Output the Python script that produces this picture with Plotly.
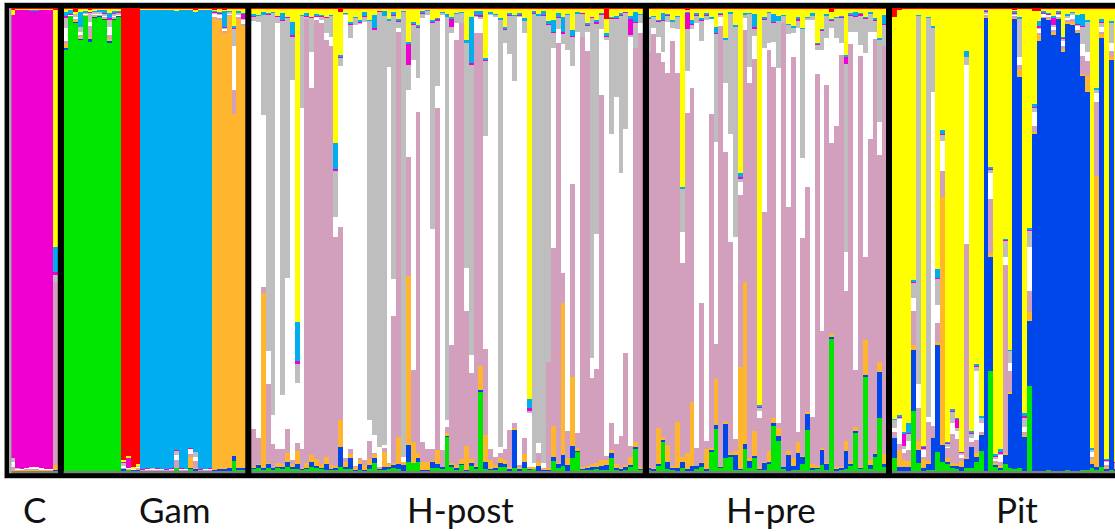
import numpy as np
import plotly.graph_objects as go

# STRUCTURE-style membership plot. Each row is one individual, reading from the top of
# its column downwards: the share used up (out of 1388) once each cluster has ended,
# in the order red, yellow, cyan, magenta, gray, white, mauve, orange, blue; green takes the rest.
UNITS = 1388
PANELS = ["C", "Gam", "H-post", "H-pre", "Pit"]
CLUSTERS_TOP_DOWN = ["red", "yellow", "cyan", "magenta", "gray", "white", "mauve", "orange", "blue", "green"]

C_CUM = [
    [3,20,20,1350,1360,1375,1385,1387,1387],
    [2,4,4,1380,1381,1383,1385,1387,1387],
    [2,4,4,1381,1381,1383,1385,1387,1387],
    [2,4,5,1378,1378,1382,1385,1387,1387],
    [2,5,7,1377,1377,1382,1385,1387,1387],
    [2,5,7,1377,1377,1382,1385,1387,1387],
    [2,4,4,1380,1380,1383,1385,1387,1387],
    [2,4,4,1383,1383,1384,1385,1387,1387],
    [2,4,4,1383,1383,1384,1385,1387,1387],
    [6,716,791,800,821,821,1370,1385,1387],
]
GAM_CUM = [
    [2,10,22,30,60,97,107,120,125],
    [2,5,18,19,20,21,22,22,22],
    [12,15,16,17,25,30,35,40,43],
    [2,10,55,56,70,80,87,90,93],
    [2,8,12,14,16,18,20,21,23],
    [5,10,11,12,40,53,87,93,100],
    [2,8,9,10,15,18,22,25,28],
    [2,5,10,11,15,18,22,23,24],
    [2,5,15,16,22,25,27,32,34],
    [2,13,30,33,55,80,93,99,105],
    [2,8,15,17,23,26,28,30,33],
    [2,8,11,12,20,21,22,23,24],
    [1355,1360,1361,1362,1372,1377,1380,1381,1387],
    [1343,1347,1349,1378,1379,1381,1382,1384,1385],
    [1377,1380,1380,1380,1381,1383,1384,1385,1387],
    [1367,1371,1371,1372,1375,1378,1380,1384,1387],
    [2,4,1382,1383,1383,1385,1386,1387,1387],
    [2,4,1380,1381,1382,1384,1386,1387,1387],
    [2,4,1378,1379,1381,1384,1386,1387,1387],
    [2,4,1379,1380,1381,1384,1386,1387,1387],
    [2,4,1381,1382,1382,1384,1386,1387,1387],
    [2,4,1382,1383,1383,1385,1386,1387,1387],
    [2,4,1380,1381,1382,1384,1386,1387,1387],
    [2,8,1325,1326,1340,1355,1380,1380,1380],
    [2,4,1380,1381,1382,1384,1386,1387,1387],
    [2,4,1381,1382,1382,1384,1386,1387,1387],
    [2,4,1318,1320,1322,1337,1347,1380,1381],
    [5,10,1330,1331,1345,1358,1380,1381,1386],
    [2,4,1382,1383,1383,1385,1386,1387,1387],
    [2,4,1381,1382,1382,1384,1386,1387,1387],
    [2,4,1380,1381,1382,1384,1386,1387,1387],
    [3,8,11,13,17,25,28,1385,1387],
    [2,10,13,15,19,29,33,1383,1387],
    [5,8,55,57,63,68,75,1382,1387],
    [2,7,10,11,15,20,21,1380,1387],
    [2,53,57,60,112,245,318,1343,1358],
    [2,8,13,14,20,25,32,1380,1383],
    [2,15,16,32,35,47,53,1380,1384],
]
HPOST_CUM = [
    [2,17,21,25,37,1262,1375,1378,1382],
    [2,20,22,23,40,1288,1367,1370,1380],
    [2,11,19,20,320,835,855,1380,1385],
    [2,13,17,18,1028,1127,1363,1367,1380],
    [2,11,12,13,1220,1307,1378,1379,1383],
    [2,22,23,24,43,1323,1363,1375,1378],
    [2,15,35,37,1159,1323,1367,1375,1380],
    [2,25,26,27,810,1263,1335,1360,1377],
    [2,42,80,85,215,1355,1368,1375,1380],
    [2,940,1057,1067,1125,1305,1328,1367,1383],
    [2,20,21,22,300,1323,1380,1381,1384],
    [2,15,23,25,30,30,1363,1380,1382],
    [2,25,26,27,132,240,1340,1360,1377],
    [2,17,23,24,24,35,1353,1373,1380],
    [2,20,21,24,35,45,1367,1380,1381],
    [2,25,26,27,75,95,1345,1367,1385],
    [2,20,21,22,85,113,1371,1381,1385],
    [2,405,483,487,625,687,1373,1379,1385],
    [12,140,147,148,173,655,1235,1317,1375],
    [2,15,16,17,18,1350,1360,1375,1383],
    [2,42,46,50,90,1323,1337,1350,1382],
    [2,27,28,29,50,1373,1375,1385,1387],
    [2,35,40,43,45,1350,1355,1367,1385],
    [2,11,22,25,40,1355,1370,1385,1386],
    [2,35,37,38,1235,1298,1353,1370,1383],
    [2,20,60,63,1280,1335,1337,1350,1365],
    [2,7,8,9,1315,1375,1378,1380,1385],
    [2,7,22,23,1310,1320,1330,1375,1385],
    [2,32,37,38,175,1365,1366,1375,1380],
    [2,11,20,21,813,923,1365,1370,1380],
    [2,32,38,39,60,70,1287,1367,1383],
    [2,8,9,10,1345,1360,1361,1370,1387],
    [2,100,105,170,245,447,802,1309,1362],
    [2,40,47,50,155,1085,1301,1363,1364],
    [2,50,57,58,208,310,1335,1350,1360],
    [2,8,15,16,30,1300,1360,1385,1386],
    [2,5,6,7,20,1323,1360,1385,1386],
    [2,35,40,43,663,1323,1357,1360,1380],
    [2,30,31,37,233,300,1325,1367,1378],
    [2,10,13,14,20,1325,1375,1376,1383],
    [2,17,25,26,1235,1255,1273,1282,1285],
    [2,27,30,55,75,1010,1365,1370,1375],
    [2,15,16,17,45,95,1370,1380,1383],
    [2,11,13,14,45,45,1353,1367,1368],
    [2,95,103,104,780,908,1313,1385,1386],
    [2,27,165,168,1040,1095,1353,1365,1373],
    [2,7,20,21,25,75,1370,1377,1383],
    [2,7,20,25,30,73,1073,1145,1150],
    [2,150,155,156,383,1022,1280,1360,1383],
    [2,10,15,16,20,1322,1355,1383,1385],
    [2,17,18,19,25,1345,1370,1380,1384],
    [2,30,33,34,1317,1335,1350,1363,1375],
    [2,55,60,63,103,1322,1355,1367,1375],
    [2,15,21,22,137,1265,1375,1380,1387],
    [2,20,21,22,218,1243,1260,1265,1380],
    [2,13,21,22,25,1370,1375,1383,1387],
    [2,30,37,38,75,1290,1337,1360,1378],
    [2,1172,1198,1208,1215,1375,1376,1380,1385],
    [2,9,15,16,1365,1375,1376,1380,1382],
    [2,17,22,23,1303,1333,1360,1373,1387],
    [2,9,21,22,1365,1380,1381,1383,1386],
    [2,38,48,49,1060,1060,1378,1383,1387],
    [2,35,70,74,120,720,1253,1345,1358],
    [2,15,27,28,63,103,1365,1367,1380],
    [2,25,70,75,108,795,885,1340,1373],
    [2,17,18,19,125,1268,1350,1370,1387],
    [2,65,83,85,173,527,1107,1313,1350],
    [2,11,15,16,70,1275,1320,1327,1331],
    [2,13,14,15,85,85,1375,1380,1385],
    [2,45,51,52,72,128,1373,1380,1385],
    [2,25,26,27,1048,1110,1367,1377,1385],
    [2,35,42,45,678,1083,1363,1377,1381],
    [2,15,16,18,62,260,1355,1373,1385],
    [33,75,83,85,95,1343,1355,1370,1385],
    [2,27,29,30,377,1245,1325,1335,1350],
    [2,23,30,31,267,1308,1367,1380,1385],
    [2,13,20,21,493,1282,1375,1383,1386],
    [2,10,11,12,362,1035,1370,1377,1385],
    [2,23,33,80,87,1313,1347,1370,1377],
    [2,11,40,42,118,118,1300,1315,1323],
    [2,17,18,19,43,73,1375,1383,1385],
]
HPRE_CUM = [
    [2,25,28,30,130,130,1373,1378,1385],
    [2,23,24,26,60,77,1378,1380,1387],
    [2,35,38,39,87,135,1260,1367,1371],
    [2,15,35,37,130,160,1285,1295,1300],
    [2,17,20,22,40,193,1309,1360,1381],
    [2,35,40,41,60,98,1373,1378,1383],
    [2,23,25,26,63,193,1240,1380,1387],
    [2,535,540,541,672,765,1345,1360,1380],
    [3,10,13,63,187,315,1335,1383,1386],
    [2,35,47,48,63,240,1180,1373,1387],
    [2,15,21,22,45,1320,1372,1373,1383],
    [2,30,33,37,97,883,1360,1363,1377],
    [2,15,20,21,35,1297,1323,1383,1387],
    [2,25,30,31,32,317,1320,1325,1331],
    [2,55,75,76,402,1007,1113,1250,1263],
    [2,15,16,18,27,53,1373,1375,1377],
    [2,90,93,94,223,430,1242,1245,1348],
    [2,11,15,16,378,700,1335,1340,1345],
    [2,50,55,56,685,1293,1328,1340,1385],
    [2,495,507,512,522,560,1077,1383,1385],
    [2,15,18,19,30,65,822,1307,1323],
    [2,15,16,17,177,225,1350,1358,1380],
    [2,17,57,62,83,153,1267,1343,1348],
    [2,1190,1195,1198,1207,1230,1375,1380,1385],
    [2,25,30,33,120,610,1360,1363,1385],
    [2,10,13,14,105,125,1328,1360,1365],
    [2,17,40,43,100,175,1230,1245,1253],
    [2,23,37,38,180,1243,1260,1283,1298],
    [2,20,21,22,45,45,1375,1376,1380],
    [2,47,48,49,78,597,1328,1340,1387],
    [2,53,57,58,75,145,1350,1373,1385],
    [2,27,31,37,60,1270,1302,1335,1385],
    [2,60,61,62,450,690,1343,1344,1367],
    [2,25,27,28,35,537,1210,1215,1265],
    [2,15,22,23,35,1225,1367,1380,1385],
    [2,105,107,110,125,197,1373,1377,1383],
    [2,63,65,66,125,967,1320,1325,1370],
    [2,17,21,22,90,230,1363,1367,1385],
    [11,31,33,37,60,405,977,985,993],
    [2,25,27,28,90,353,1377,1382,1387],
    [2,23,25,27,105,140,1375,1377,1385],
    [2,140,147,167,730,847,1298,1327,1383],
    [2,15,21,23,70,107,1360,1367,1373],
    [2,10,23,25,70,1085,1255,1268,1275],
    [2,13,17,21,110,143,1375,1377,1381],
    [2,25,28,31,135,747,995,1100,1107],
    [2,11,15,17,70,392,1355,1370,1383],
    [2,30,35,37,70,93,1333,1337,1347],
    [2,90,93,94,340,440,1060,1090,1230],
    [2,20,47,50,113,113,1338,1367,1375],
]
PIT_CUM = [
    [27,1232,1233,1234,1260,1270,1290,1290,1350],
    [3,1220,1225,1228,1232,1307,1325,1377,1387],
    [2,1272,1275,1312,1323,1335,1355,1375,1387],
    [2,1245,1273,1275,1298,1325,1358,1375,1387],
    [2,815,822,823,870,908,1010,1025,1208],
    [2,20,21,23,1127,1198,1297,1325,1365],
    [2,1313,1316,1320,1325,1345,1352,1378,1387],
    [2,27,28,29,1225,1242,1357,1367,1385],
    [2,53,57,58,250,1253,1290,1290,1385],
    [2,783,808,811,890,945,1000,1010,1330],
    [2,365,377,380,397,488,565,1310,1360],
    [2,1300,1303,1306,1315,1318,1350,1360,1365],
    [2,1203,1207,1210,1245,1277,1365,1373,1380],
    [2,1228,1230,1260,1267,1292,1367,1373,1381],
    [2,1330,1331,1332,1340,1350,1358,1377,1387],
    [2,128,145,146,170,707,1345,1351,1380],
    [2,1268,1273,1275,1290,1300,1315,1315,1378],
    [2,1067,1073,1075,1087,1295,1335,1345,1362],
    [2,1223,1228,1229,1245,1270,1275,1280,1327],
    [2,5,8,10,17,20,24,28,1387],
    [2,477,483,485,495,572,735,745,1088],
    [2,1338,1341,1345,1350,1358,1365,1368,1375],
    [2,1323,1330,1335,1340,1360,1373,1377,1385],
    [2,693,695,696,745,770,1335,1340,1367],
    [2,1025,1027,1028,1063,1087,1150,1157,1380],
    [3,7,13,15,20,23,27,32,1383],
    [2,27,30,31,147,170,182,207,1380],
    [2,1213,1222,1228,1255,1270,1280,1285,1387],
    [2,660,665,667,715,847,912,938,1133],
    [8,288,297,298,312,353,372,375,1388],
    [7,38,53,57,63,73,78,97,1388],
    [2,8,13,15,17,25,27,29,1388],
    [2,13,17,19,20,25,30,33,1386],
    [2,23,28,50,55,65,70,79,1388],
    [2,9,13,15,20,25,27,31,1388],
    [2,85,88,90,97,113,123,132,1388],
    [2,17,22,23,27,35,40,47,1386],
    [2,10,12,14,20,33,40,50,1388],
    [2,20,47,49,53,65,68,75,1388],
    [2,17,53,55,107,142,197,203,1386],
    [2,35,40,41,132,158,203,252,1385],
    [2,1320,1323,1325,1330,1345,1350,1367,1380],
    [2,239,243,244,253,280,502,1377,1385],
    [2,33,40,43,55,70,75,88,1377],
    [2,1353,1355,1356,1360,1370,1377,1383,1386],
    [2,37,42,43,105,127,147,155,1386],
    [2,1360,1361,1362,1363,1364,1375,1383,1386],
]

COLORS = {
    "green": "#00E600", "blue": "#0047EB", "orange": "#FFB52E", "mauve": "#D29FBD",
    "white": "#FFFFFF", "gray": "#BEBEBE", "magenta": "#F000D0", "cyan": "#00AEEF",
    "yellow": "#FFFF00", "red": "#FF0000",
}

# layout of the five panels on an x axis that runs in page pixels
PANEL_LEFT = [10.0, 63.67, 251.3, 646.18, 892.0]
BAR_STEP = [4.8, 4.8, 4.833, 4.817, 4.817]
LABEL_X = [34, 175, 460, 771, 1017]
FRAME_GAPS = [(4.8, 10), (57.8, 63.67), (245.3, 251.3), (642.8, 649), (886, 892)]
PANEL_SPANS = [(11, 58), (63.67, 245.3), (251.3, 642.8), (649, 886), (892, 1115)]

TOP_PX, BOTTOM_PX, AREA_TOP, AREA_BOTTOM = 8.3, 471.0, 2.0, 479.0
SPAN = BOTTOM_PX - TOP_PX


def yval(px):
    return (BOTTOM_PX - px) / SPAN


tables = [C_CUM, GAM_CUM, HPOST_CUM, HPRE_CUM, PIT_CUM]
xs, widths, rows = [], [], []
for left, step, table in zip(PANEL_LEFT, BAR_STEP, tables):
    for i, row in enumerate(table):
        xs.append(left + (i + 0.5) * step)
        widths.append(step)
        rows.append([0] + row + [UNITS])
share = np.clip(np.diff(np.array(rows, dtype=float), axis=1), 0, None) / UNITS

fig = go.Figure()
for name in reversed(CLUSTERS_TOP_DOWN):  # stacked from the baseline up
    fig.add_bar(
        x=xs, y=share[:, CLUSTERS_TOP_DOWN.index(name)], width=widths, name=name,
        marker=dict(color=COLORS[name], line=dict(width=0)), hoverinfo="skip",
    )

shapes = [dict(type="rect", xref="x", yref="y", x0=4.9, x1=1115, y0=yval(478), y1=yval(3),
               fillcolor="black", line_width=0, layer="below")]
for x0, x1 in FRAME_GAPS:
    shapes.append(dict(type="rect", xref="x", yref="y", x0=x0, x1=x1, y0=yval(478), y1=yval(3),
                       fillcolor="black", line_width=0, layer="above"))
for x0, x1 in PANEL_SPANS:
    shapes.append(dict(type="rect", xref="x", yref="y", x0=x0, x1=x1, y0=yval(473.3), y1=0,
                       fillcolor="#808080", line_width=0, layer="above"))
shapes.append(dict(type="rect", xref="x", yref="y", x0=9, x1=11.5, y0=yval(473.3), y1=1,
                   fillcolor="#A9A9A9", line_width=0, layer="above"))

# labels sit below the plot area, so they are placed in paper coordinates vertically
label_paper_y = (AREA_BOTTOM - 509) / (AREA_BOTTOM - AREA_TOP)
annotations = [
    dict(text=t, x=x, y=label_paper_y, xref="x", yref="paper", showarrow=False, xanchor="center",
         yanchor="middle", font=dict(family="Lato", size=35, color="#111111"))
    for t, x in zip(PANELS, LABEL_X)
]

fig.update_layout(
    width=1115, height=532, barmode="stack", showlegend=False,
    margin=dict(l=4, r=0, t=AREA_TOP, b=532 - AREA_BOTTOM, pad=0),
    paper_bgcolor="white", plot_bgcolor="#C8C8C8",
    xaxis=dict(range=[4, 1115], visible=False, fixedrange=True),
    yaxis=dict(range=[yval(AREA_BOTTOM), yval(AREA_TOP)], visible=False, fixedrange=True),
    shapes=shapes, annotations=annotations,
)
fig.write_html("out.html", config=dict(displayModeBar=False),
               post_script="document.body.style.margin='0';document.body.style.overflow='hidden';")
